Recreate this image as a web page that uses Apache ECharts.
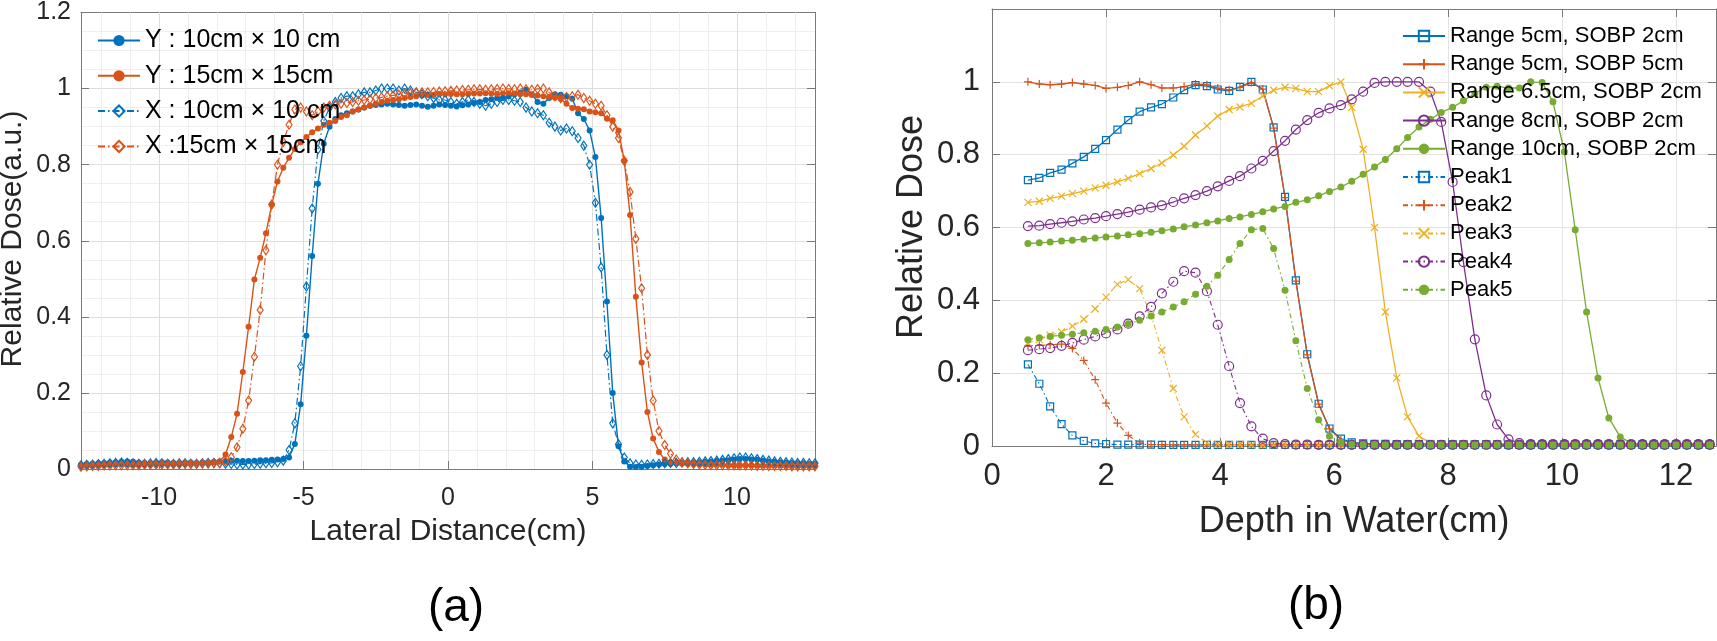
<!DOCTYPE html>
<html><head><meta charset="utf-8">
<script src="https://cdn.jsdelivr.net/npm/echarts@6/dist/echarts.min.js"></script>
<style>html,body{margin:0;padding:0;background:#fff}#c{width:1717px;height:641px}</style>
</head><body><div id="c"></div>
<script>
// ================= panel (a) data =================
const lateralX = [-12.7,-12.5,-12.3,-12.1,-11.9,-11.7,-11.5,-11.3,-11.1,-10.9,
 -10.7,-10.5,-10.3,-10.1,-9.9,-9.7,-9.5,-9.3,-9.1,-8.9,
 -8.7,-8.5,-8.3,-8.1,-7.9,-7.7,-7.5,-7.3,-7.1,-6.9,
 -6.7,-6.5,-6.3,-6.1,-5.9,-5.7,-5.5,-5.3,-5.1,-4.9,
 -4.7,-4.5,-4.3,-4.1,-3.9,-3.7,-3.5,-3.3,-3.1,-2.9,
 -2.7,-2.5,-2.3,-2.1,-1.9,-1.7,-1.5,-1.3,-1.1,-0.9,
 -0.7,-0.5,-0.3,-0.1,0.1,0.3,0.5,0.7,0.9,1.1,
 1.3,1.5,1.7,1.9,2.1,2.3,2.5,2.7,2.9,3.1,
 3.3,3.5,3.7,3.9,4.1,4.3,4.5,4.7,4.9,5.1,
 5.3,5.5,5.7,5.9,6.1,6.3,6.5,6.7,6.9,7.1,
 7.3,7.5,7.7,7.9,8.1,8.3,8.5,8.7,8.9,9.1,
 9.3,9.5,9.7,9.9,10.1,10.3,10.5,10.7,10.9,11.1,
 11.3,11.5,11.7,11.9,12.1,12.3,12.5,12.7];
const profY10 = [0.012,0.013,0.014,0.015,0.016,0.017,0.018,0.019,0.020,0.019,
 0.017,0.016,0.016,0.017,0.018,0.017,0.016,0.016,0.017,0.017,
 0.016,0.017,0.018,0.019,0.020,0.021,0.022,0.022,0.021,0.021,
 0.022,0.023,0.023,0.024,0.025,0.026,0.030,0.066,0.170,0.350,
 0.560,0.750,0.855,0.900,0.920,0.930,0.935,0.940,0.945,0.950,
 0.955,0.957,0.958,0.960,0.958,0.957,0.955,0.957,0.958,0.955,
 0.952,0.955,0.958,0.957,0.955,0.953,0.956,0.958,0.962,0.965,
 0.970,0.972,0.975,0.975,0.980,0.985,0.990,0.997,0.985,0.965,
 0.960,0.975,0.985,0.984,0.980,0.973,0.935,0.920,0.890,0.820,
 0.660,0.440,0.200,0.060,0.020,0.006,0.005,0.006,0.008,0.010,
 0.012,0.013,0.014,0.015,0.016,0.016,0.017,0.018,0.019,0.020,
 0.021,0.022,0.023,0.025,0.026,0.026,0.025,0.024,0.022,0.020,
 0.019,0.018,0.017,0.016,0.015,0.015,0.014,0.014];
const profY15 = [0.008,0.009,0.010,0.011,0.012,0.012,0.013,0.013,0.013,0.012,
 0.012,0.012,0.013,0.013,0.013,0.012,0.012,0.013,0.013,0.014,
 0.014,0.015,0.016,0.017,0.020,0.038,0.084,0.145,0.255,0.374,
 0.498,0.555,0.620,0.695,0.756,0.792,0.818,0.841,0.859,0.873,
 0.885,0.895,0.905,0.910,0.915,0.925,0.930,0.940,0.945,0.950,
 0.955,0.960,0.965,0.968,0.970,0.972,0.975,0.978,0.980,0.982,
 0.983,0.984,0.985,0.985,0.986,0.985,0.985,0.986,0.987,0.987,
 0.988,0.987,0.986,0.987,0.988,0.987,0.985,0.985,0.983,0.982,
 0.980,0.978,0.976,0.973,0.960,0.949,0.947,0.946,0.940,0.938,
 0.935,0.921,0.917,0.890,0.810,0.668,0.453,0.280,0.150,0.080,
 0.045,0.025,0.018,0.015,0.014,0.013,0.013,0.012,0.012,0.011,
 0.011,0.011,0.010,0.010,0.010,0.010,0.010,0.009,0.009,0.009,
 0.009,0.009,0.008,0.008,0.008,0.008,0.008,0.008];
const profX10 = [0.010,0.011,0.012,0.013,0.014,0.015,0.016,0.017,0.016,0.015,
 0.014,0.014,0.015,0.016,0.015,0.014,0.014,0.015,0.015,0.014,
 0.014,0.015,0.016,0.016,0.015,0.014,0.013,0.012,0.012,0.012,
 0.013,0.014,0.015,0.016,0.018,0.022,0.050,0.120,0.270,0.480,
 0.685,0.840,0.915,0.950,0.965,0.975,0.980,0.980,0.985,0.990,
 0.990,0.995,1.000,1.000,1.000,0.995,1.000,0.995,0.990,0.985,
 0.980,0.975,0.970,0.970,0.965,0.960,0.965,0.970,0.965,0.960,
 0.955,0.960,0.965,0.970,0.970,0.968,0.965,0.950,0.940,0.935,
 0.930,0.910,0.900,0.890,0.895,0.888,0.870,0.850,0.800,0.700,
 0.530,0.300,0.120,0.065,0.030,0.015,0.012,0.011,0.012,0.013,
 0.014,0.015,0.016,0.016,0.017,0.018,0.018,0.019,0.020,0.021,
 0.022,0.024,0.026,0.028,0.030,0.030,0.028,0.026,0.024,0.022,
 0.020,0.019,0.018,0.017,0.016,0.016,0.015,0.015];
const profX15 = [0.006,0.007,0.008,0.008,0.009,0.009,0.010,0.010,0.010,0.010,
 0.010,0.011,0.011,0.011,0.012,0.012,0.012,0.012,0.013,0.013,
 0.013,0.014,0.014,0.015,0.016,0.020,0.031,0.057,0.106,0.180,
 0.295,0.418,0.575,0.695,0.800,0.860,0.905,0.945,0.950,0.940,
 0.930,0.940,0.950,0.955,0.958,0.960,0.962,0.965,0.968,0.970,
 0.972,0.975,0.977,0.980,0.982,0.984,0.986,0.988,0.989,0.990,
 0.990,0.991,0.992,0.993,0.994,0.995,0.996,0.997,0.998,0.998,
 0.997,0.998,0.999,1.000,0.999,0.998,1.000,0.998,0.997,0.999,
 1.000,0.990,0.980,0.975,0.978,0.980,0.984,0.975,0.968,0.960,
 0.955,0.930,0.900,0.870,0.810,0.728,0.605,0.475,0.300,0.180,
 0.100,0.063,0.040,0.025,0.018,0.015,0.013,0.012,0.011,0.010,
 0.010,0.010,0.010,0.009,0.009,0.009,0.009,0.008,0.008,0.008,
 0.008,0.008,0.008,0.007,0.007,0.007,0.007,0.007];
const namesA = ['Y : 10cm \u00d7 10 cm','Y : 15cm \u00d7 15cm','X : 10cm \u00d7 10 cm','X :15cm \u00d7 15cm'];
const ticksA = [-10,-5,0,5,10];
const minorTicksA = [-12,-11,-10,-9,-8,-7,-6,-5,-4,-3,-2,-1,0,1,2,3,4,5,6,7,8,9,10,11,12];

// ================= panel (b) data =================
const depthX = [0.63,0.83,1.02,1.22,1.41,1.61,1.81,2.00,2.20,2.39,
 2.59,2.79,2.98,3.18,3.37,3.57,3.77,3.96,4.16,4.35,
 4.55,4.75,4.94,5.14,5.33,5.53,5.73,5.92,6.12,6.31,
 6.51,6.71,6.90,7.10,7.29,7.49,7.69,7.88,8.08,8.27,
 8.47,8.67,8.86,9.06,9.25,9.45,9.65,9.84,10.04,10.23,
 10.43,10.63,10.82,11.02,11.21,11.41,11.61,11.80,12.00,12.19,
 12.39,12.59];
const r5s2 = [0.730,0.736,0.750,0.759,0.776,0.794,0.816,0.840,0.869,0.895,
 0.918,0.930,0.939,0.957,0.977,0.991,0.988,0.979,0.975,0.986,
 1.000,0.979,0.875,0.684,0.455,0.252,0.116,0.048,0.020,0.010,
 0.007,0.006,0.006,0.005,0.005,0.005,0.005,0.005,0.005,0.005,
 0.005,0.005,0.005,0.004,0.004,0.004,0.004,0.004,0.004,0.004,
 0.004,0.004,0.004,0.004,0.004,0.004,0.004,0.004,0.004,0.004,
 0.004,0.004];
const r5s5 = [1.000,0.994,0.992,0.994,0.998,0.994,0.990,0.982,0.985,0.990,
 1.000,0.992,0.983,0.983,0.987,0.994,0.992,0.983,0.978,0.985,
 0.998,0.980,0.873,0.682,0.453,0.250,0.115,0.047,0.017,0.008,
 0.006,0.005,0.005,0.005,0.005,0.005,0.005,0.005,0.005,0.005,
 0.005,0.005,0.005,0.005,0.004,0.004,0.004,0.004,0.004,0.004,
 0.004,0.004,0.004,0.004,0.004,0.004,0.004,0.004,0.004,0.004,
 0.004,0.004];
const r65s2 = [0.669,0.672,0.680,0.686,0.693,0.700,0.709,0.716,0.725,0.735,
 0.748,0.762,0.777,0.799,0.823,0.854,0.879,0.906,0.924,0.931,
 0.941,0.961,0.977,0.985,0.982,0.973,0.973,0.989,1.000,0.930,
 0.815,0.600,0.368,0.187,0.080,0.027,0.008,0.005,0.005,0.005,
 0.005,0.005,0.005,0.005,0.005,0.005,0.005,0.005,0.005,0.005,
 0.005,0.005,0.005,0.005,0.005,0.005,0.005,0.005,0.005,0.005,
 0.005,0.005];
const r8s2 = [0.604,0.605,0.609,0.613,0.617,0.622,0.626,0.631,0.637,0.642,
 0.649,0.655,0.661,0.670,0.680,0.689,0.700,0.713,0.728,0.741,
 0.762,0.783,0.810,0.838,0.869,0.895,0.915,0.927,0.936,0.952,
 0.973,0.997,1.000,1.000,1.000,1.000,0.973,0.890,0.725,0.505,
 0.293,0.139,0.059,0.018,0.008,0.005,0.005,0.005,0.005,0.005,
 0.005,0.005,0.005,0.005,0.005,0.005,0.005,0.005,0.005,0.005,
 0.005,0.005];
const r10s2 = [0.556,0.558,0.560,0.563,0.565,0.568,0.571,0.574,0.577,0.580,
 0.583,0.587,0.591,0.596,0.602,0.607,0.613,0.618,0.625,0.629,
 0.636,0.643,0.651,0.658,0.669,0.676,0.687,0.699,0.711,0.727,
 0.746,0.766,0.787,0.816,0.847,0.876,0.897,0.916,0.930,0.948,
 0.968,0.985,0.988,0.983,0.983,1.000,0.998,0.945,0.808,0.594,
 0.368,0.187,0.077,0.025,0.008,0.005,0.005,0.005,0.005,0.005,
 0.005,0.005];
const peak1 = [0.224,0.171,0.109,0.060,0.029,0.014,0.007,0.005,0.004,0.004,
 0.004,0.004,0.003,0.003,0.003,0.003,0.003,0.003,0.003,0.003,
 0.003,0.003,0.003,0.003,0.003,0.003,0.003,0.003,0.003,0.003,
 0.003,0.003,0.003,0.003,0.003,0.003,0.003,0.003,0.003,0.003,
 0.003,0.003,0.003,0.003,0.003,0.003,0.003,0.003,0.003,0.003,
 0.003,0.003,0.003,0.003,0.003,0.003,0.003,0.003,0.003,0.003,
 0.003,0.003];
const peak2 = [0.275,0.276,0.278,0.280,0.268,0.235,0.182,0.118,0.063,0.029,
 0.008,0.004,0.004,0.003,0.003,0.003,0.003,0.003,0.003,0.003,
 0.003,0.003,0.003,0.003,0.003,0.003,0.003,0.003,0.003,0.003,
 0.003,0.003,0.003,0.003,0.003,0.003,0.003,0.003,0.003,0.003,
 0.003,0.003,0.003,0.003,0.003,0.003,0.003,0.003,0.003,0.003,
 0.003,0.003,0.003,0.003,0.003,0.003,0.003,0.003,0.003,0.003,
 0.003,0.003];
const peak3 = [0.283,0.292,0.304,0.313,0.329,0.348,0.377,0.409,0.444,0.457,
 0.432,0.360,0.263,0.158,0.080,0.032,0.008,0.005,0.004,0.004,
 0.003,0.003,0.003,0.003,0.003,0.003,0.003,0.003,0.003,0.003,
 0.003,0.003,0.003,0.003,0.003,0.003,0.003,0.003,0.003,0.003,
 0.003,0.003,0.003,0.003,0.003,0.003,0.003,0.003,0.003,0.003,
 0.003,0.003,0.003,0.003,0.003,0.003,0.003,0.003,0.003,0.003,
 0.003,0.003];
const peak4 = [0.263,0.266,0.269,0.275,0.283,0.292,0.301,0.309,0.320,0.336,
 0.356,0.382,0.419,0.451,0.480,0.476,0.425,0.333,0.219,0.118,
 0.054,0.020,0.008,0.005,0.004,0.004,0.003,0.003,0.003,0.003,
 0.003,0.003,0.003,0.003,0.003,0.003,0.003,0.003,0.003,0.003,
 0.003,0.003,0.003,0.003,0.003,0.003,0.003,0.003,0.003,0.003,
 0.003,0.003,0.003,0.003,0.003,0.003,0.003,0.003,0.003,0.003,
 0.003,0.003];
const peak5 = [0.292,0.297,0.301,0.304,0.307,0.311,0.315,0.320,0.327,0.336,
 0.345,0.357,0.368,0.382,0.396,0.417,0.439,0.469,0.512,0.556,
 0.594,0.597,0.542,0.428,0.289,0.158,0.072,0.027,0.010,0.005,
 0.004,0.004,0.003,0.003,0.003,0.003,0.003,0.003,0.003,0.003,
 0.003,0.003,0.003,0.003,0.003,0.003,0.003,0.003,0.003,0.003,
 0.003,0.003,0.003,0.003,0.003,0.003,0.003,0.003,0.003,0.003,
 0.003,0.003];
const namesB = ['Range 5cm, SOBP 2cm','Range 5cm, SOBP 5cm','Range 6.5cm, SOBP 2cm','Range 8cm, SOBP 2cm','Range 10cm, SOBP 2cm','Peak1','Peak2','Peak3','Peak4','Peak5'];
const ticksBx = [0,2,4,6,8,10,12];
const ticksBy = [0,0.2,0.4,0.6,0.8,1];

// ================= styling =================
const FONT = "'Liberation Sans', Arial, Helvetica, sans-serif";
const COL = {blue:'#0072BD', orange:'#D95319', yellow:'#EDB120', purple:'#7E2F8E', green:'#77AC30'};
const AXC = '#7a7a7a', TXT = '#262626';
const SYM = {
  diamond:'path://M5,0L10,7L5,14L0,7Z',
  square:'path://M0,0L10,0L10,10L0,10Z',
  ring:'path://M10,5A5,5,0,1,1,0,5A5,5,0,1,1,10,5Z',
  plus:'path://M5,0L5,10M0,5L10,5',
  cross:'path://M0,0L10,10M10,0L0,10'
};
function mk(name, xs, ys, color, symbol, size, filled, dash, xi, yi, lw){
  return {
    type:'line', name, xAxisIndex:xi, yAxisIndex:yi,
    data: xs.map((x,i)=>[x, ys[i]]),
    symbol, symbolSize:size, showSymbol:true, clip:true,
    lineStyle:{color, width:lw, type: dash ? dash : 'solid'},
    itemStyle: filled ? {color, borderColor:color, borderWidth:0}
                      : {color:'rgba(255,255,255,0)', borderColor:color, borderWidth:1.2},
    emphasis:{disabled:true}, silent:true
  };
}
const DDa = [7,3,1.5,3], DDb = [5,3,1.5,3];
const series = [
  mk(namesA[0], lateralX, profY10, COL.blue,   'circle', 6, true, null, 0, 0, 1.4),
  mk(namesA[1], lateralX, profY15, COL.orange, 'circle', 6, true, null, 0, 0, 1.4),
  mk(namesA[2], lateralX, profX10, COL.blue,   SYM.diamond, [6,9], false, DDa, 0, 0, 1.2),
  mk(namesA[3], lateralX, profX15, COL.orange, SYM.diamond, [6,9], false, DDa, 0, 0, 1.2),
  mk(namesB[0], depthX, r5s2,  COL.blue,   SYM.square, 7, false, null, 3, 2, 1.3),
  mk(namesB[1], depthX, r5s5,  COL.orange, SYM.plus,   8, false, null, 3, 2, 1.3),
  mk(namesB[2], depthX, r65s2, COL.yellow, SYM.cross,  7, false, null, 3, 2, 1.3),
  mk(namesB[3], depthX, r8s2,  COL.purple, SYM.ring,   9, false, null, 3, 2, 1.3),
  mk(namesB[4], depthX, r10s2, COL.green,  'circle',   7, true, null, 3, 2, 1.3),
  mk(namesB[5], depthX, peak1, COL.blue,   SYM.square, 7, false, DDb, 3, 2, 1.1),
  mk(namesB[6], depthX, peak2, COL.orange, SYM.plus,   8, false, DDb, 3, 2, 1.1),
  mk(namesB[7], depthX, peak3, COL.yellow, SYM.cross,  7, false, DDb, 3, 2, 1.1),
  mk(namesB[8], depthX, peak4, COL.purple, SYM.ring,   9, false, DDb, 3, 2, 1.1),
  mk(namesB[9], depthX, peak5, COL.green,  'circle',   7, true, DDb, 3, 2, 1.1)
];

function borderAxis(gi, pos, custom, extra){
  const a = Object.assign({
    gridIndex:gi, type:'value', position:pos,
    axisLine:{show:true, onZero:false, lineStyle:{color:AXC, width:1}},
    axisTick:{show:true, inside:true, length:8, lineStyle:{color:AXC}},
    axisLabel:{show:false}, splitLine:{show:false}
  }, extra);
  if (custom) a.axisTick.customValues = custom;
  return a;
}
function txt(x, y, text, size, rot, fill){
  const g = {type:'text', x, y, style:{text, fontSize:size, fontFamily:FONT, fill:fill||TXT,
    textAlign:'center', textVerticalAlign:'middle', verticalAlign:'middle'}};
  if (rot) g.rotation = rot;
  return g;
}

const option = {
  animation:false,
  backgroundColor:'#fff',
  textStyle:{fontFamily:FONT},
  grid:[
    {left:81, top:10, width:734, height:459},
    {left:992, top:9, width:724, height:437}
  ],
  xAxis:[
    {gridIndex:0, type:'value', min:-12.7, max:12.7, position:'bottom',
     axisLine:{show:true, onZero:false, lineStyle:{color:AXC}},
     axisTick:{show:true, inside:true, length:8, customValues:ticksA, lineStyle:{color:AXC}},
     axisLabel:{customValues:ticksA, fontSize:25, color:TXT, margin:17, fontFamily:FONT},
     splitLine:{show:true, lineStyle:{color:'#dedede', width:1}}, z:3},
    {gridIndex:0, type:'value', min:-12.7, max:12.7, position:'bottom',
     axisLine:{show:false, onZero:false}, axisTick:{show:false, customValues:minorTicksA},
     axisLabel:{show:false}, splitLine:{show:true, lineStyle:{color:'#efefef', width:1}}, z:1},
    borderAxis(0, 'top', ticksA, {min:-12.7, max:12.7}),
    {gridIndex:1, type:'value', min:0, max:12.7, position:'bottom',
     axisLine:{show:true, onZero:false, lineStyle:{color:AXC}},
     axisTick:{show:true, inside:true, length:8, customValues:ticksBx, lineStyle:{color:AXC}},
     axisLabel:{customValues:ticksBx, fontSize:31, color:TXT, margin:15, fontFamily:FONT},
     splitLine:{show:true, lineStyle:{color:'#e3e3e3', width:1}}},
    borderAxis(1, 'top', ticksBx, {min:0, max:12.7})
  ],
  yAxis:[
    {gridIndex:0, type:'value', min:0, max:1.2, interval:0.2, position:'left',
     axisLine:{show:true, onZero:false, lineStyle:{color:AXC}},
     axisTick:{show:true, inside:true, length:8, lineStyle:{color:AXC}},
     axisLabel:{fontSize:25, color:TXT, margin:10, fontFamily:FONT},
     splitLine:{show:true, lineStyle:{color:'#dedede'}},
     minorTick:{show:false, splitNumber:4},
     minorSplitLine:{show:true, lineStyle:{color:'#efefef'}}},
    borderAxis(0, 'right', null, {min:0, max:1.2, interval:0.2}),
    {gridIndex:1, type:'value', min:0, max:1.2, interval:0.2, position:'left',
     axisLine:{show:true, onZero:false, lineStyle:{color:AXC}},
     axisTick:{show:true, inside:true, length:8, customValues:ticksBy, lineStyle:{color:AXC}},
     axisLabel:{customValues:ticksBy, fontSize:31, color:TXT, margin:12, fontFamily:FONT},
     splitLine:{show:true, lineStyle:{color:'#e3e3e3'}}},
    borderAxis(1, 'right', ticksBy, {min:0, max:1.2, interval:0.2})
  ],
  legend:[
    {data:namesA, orient:'vertical', left:97, top:28, itemWidth:42, itemHeight:14, itemGap:10.3,
     textStyle:{fontSize:25, color:'#000', lineHeight:24, fontFamily:FONT}, selectedMode:false, padding:0},
    {data:namesB, orient:'vertical', left:1402, top:25, itemWidth:42, itemHeight:13, itemGap:6.2,
     textStyle:{fontSize:22, color:'#000', lineHeight:22, fontFamily:FONT}, selectedMode:false, padding:0}
  ],
  graphic:[
    txt(13, 239, 'Relative Dose(a.u.)', 30, Math.PI/2),
    txt(448, 532, 'Lateral Distance(cm)', 30),
    txt(456, 608, '(a)', 46, 0, '#000'),
    txt(912, 227, 'Relative Dose', 36, Math.PI/2),
    txt(1354, 522, 'Depth in Water(cm)', 36),
    txt(1316, 606, '(b)', 46, 0, '#000')
  ],
  series
};
const chart = echarts.init(document.getElementById('c'), null, {renderer:'canvas'});
chart.setOption(option);
</script></body></html>
